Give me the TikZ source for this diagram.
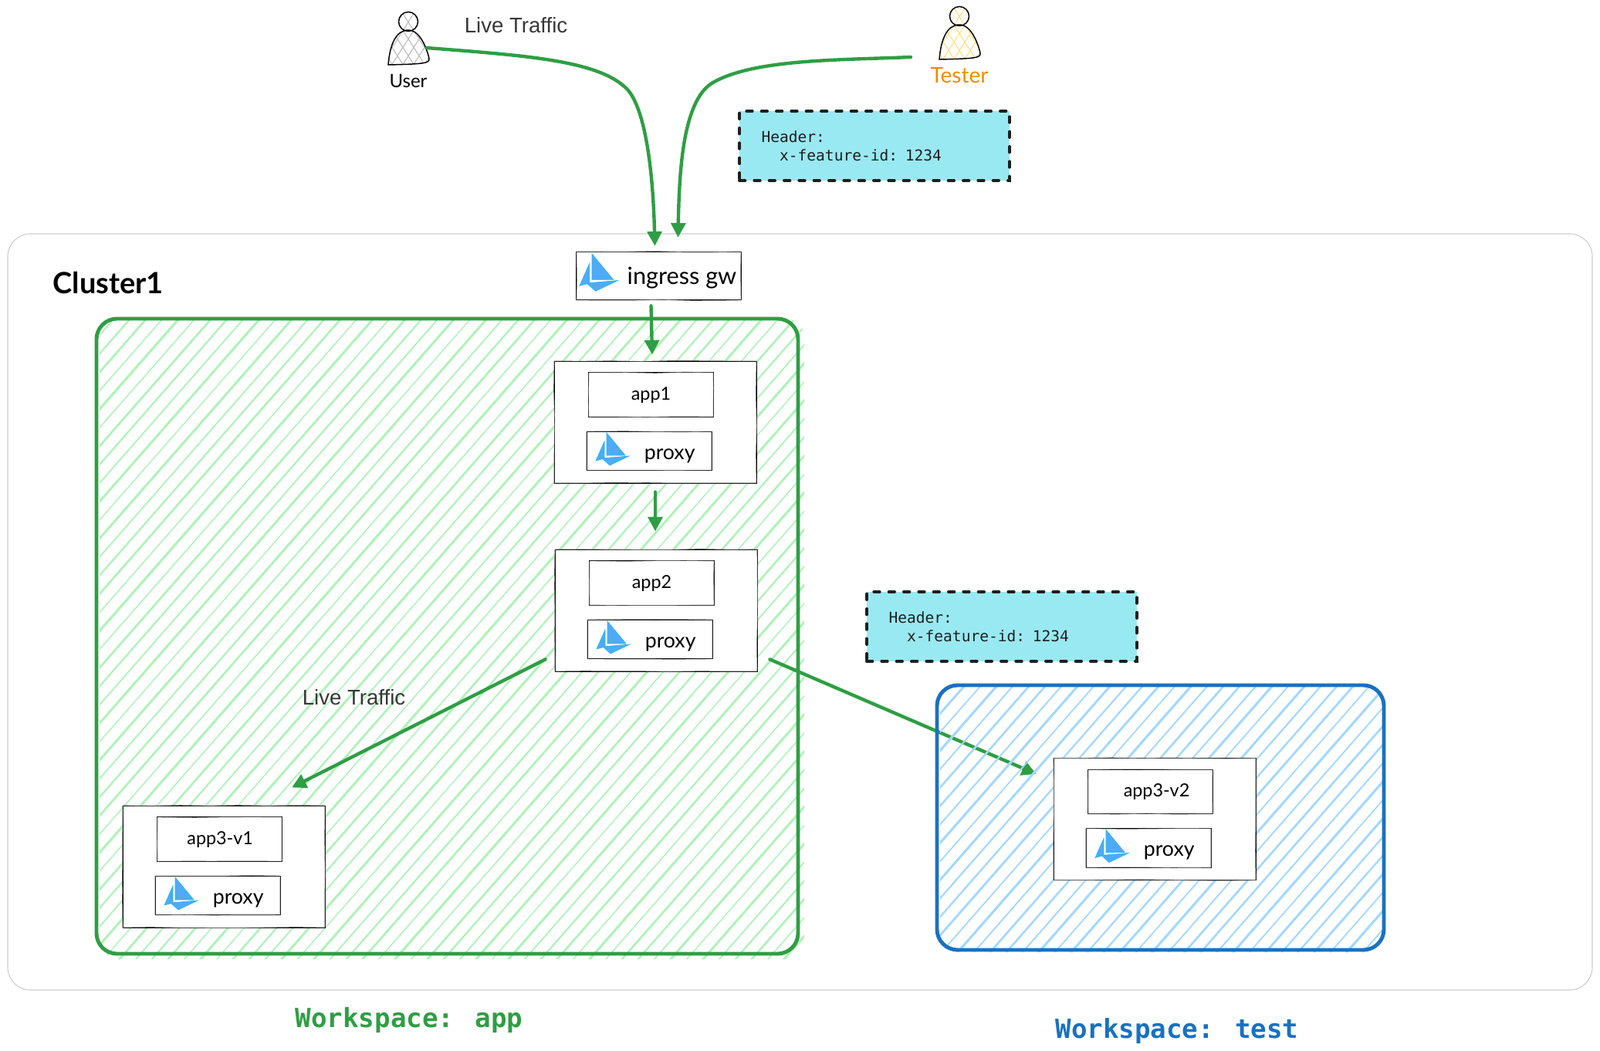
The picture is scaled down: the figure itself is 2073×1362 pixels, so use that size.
\documentclass[tikz,border=0pt]{standalone}
\usepackage{fontspec}
\setmainfont{Liberation Sans}
\newfontfamily\handfont{Lato}
\newfontfamily\codefont{DejaVu Sans Mono}
\usetikzlibrary{positioning,arrows.meta,backgrounds,decorations.pathmorphing}
\definecolor{flowgreen}{HTML}{2F9E44}
\definecolor{hatchgreen}{HTML}{B2F2BB}
\definecolor{zoneblue}{HTML}{1971C2}
\definecolor{hatchblue}{HTML}{A5D8FF}
\definecolor{headercyan}{HTML}{99E9F2}
\definecolor{istioblue}{HTML}{4DABF7}
\definecolor{istioedge}{HTML}{29B6F6}
\definecolor{testerorange}{HTML}{F08C00}
\tikzset{
  sketchbox/.style={draw=black, fill=white, line width=.7pt,
    postaction={draw=black!65, line width=.5pt, decorate,
      decoration={random steps, segment length=28pt, amplitude=.5pt}}},
  podbox/.style={sketchbox, minimum width=196.5pt, minimum height=118.5pt, inner sep=0pt},
  appbox/.style={sketchbox, minimum width=121pt, minimum height=43pt, inner sep=0pt,
    font=\handfont\fontsize{17.5}{20}\selectfont},
  proxybox/.style={sketchbox, minimum width=121.5pt, minimum height=38pt, inner sep=0pt,
    font=\handfont\fontsize{20}{23}\selectfont},
  flow/.style={draw=flowgreen, line width=3.3pt, line cap=round,
    -{Triangle[length=14pt,width=14pt]}},
  headerbox/.style={draw=black!88, fill=headercyan, line width=3pt, line cap=round,
    dash pattern=on 5.5pt off 9pt, minimum height=67.5pt, inner xsep=21.5pt,
    text width=219.5pt, align=left, text=black!88,
    font=\codefont\fontsize{14.65}{18}\selectfont},
  traffic/.style={text=black!78, font=\fontsize{20.7}{24}\selectfont},
  workspace/.style={font=\codefont\bfseries\fontsize{25.6}{30}\selectfont},
  pics/istio/.style={code={
    \draw[fill=istioblue, draw=istioedge, line width=.5pt] (0,0) -- (24,29) -- (0,29) -- cycle;
    \draw[fill=istioblue, draw=istioedge, line width=.5pt] (-3,11) -- (-14,36) -- (-3,33) -- cycle;
    \draw[fill=istioblue, draw=istioedge, line width=.5pt] (-6,33) -- (29,30) -- (4,42) -- cycle;
  }},
  pics/person/.style={code={
    \begin{scope}
      \clip (0,0) circle (12.5)
        (-26,56) .. controls (-24,30) and (-16,11) .. (0,11)
        .. controls (16,11) and (25,38) .. (27,48)
        .. controls (28,54) and (20,55) .. (-26,56) -- cycle;
      \foreach \k in {-70,-56,...,70} {
        \draw[#1, line width=.9pt] ({\k-24},-15) -- ({\k+24},60);
        \draw[#1, line width=.9pt] ({\k+24},-15) -- ({\k-24},60);
      }
    \end{scope}
    \draw[line width=1.1pt] (0,0) circle (12.5);
    \draw[line width=1.1pt] (-26,56) .. controls (-24,30) and (-16,11) .. (0,11)
        .. controls (16,11) and (25,38) .. (27,48)
        .. controls (28,54) and (20,55) .. (-26,56) -- cycle;
  }}
}

\begin{document}
\begin{tikzpicture}[x=.75pt, y=-.75pt]
  \useasboundingbox (0,0) rectangle (2073,1362);

  % Pods with their app and proxy boxes
  \foreach \name/\apptext/\x/\y/\nudge in {app1/app1/849/547/0, app2/app2/850/791/0,
      appvone/app3-v1/290/1123/1, appvtwo/app3-v2/1496/1061.5/12} {
    \node[podbox] (\name pod) at (\x,\y) {};
    \node[appbox] (\name) at ({\x-5.5},{\y-35.5}) {\hspace*{\nudge pt}\raisebox{-5pt}[0pt][0pt]{\apptext}};
    \node[proxybox] (\name proxy) at ({\x-8},{\y+37.5}) {\hspace*{40pt}\raisebox{-8pt}[0pt][0pt]{proxy}};
    \pic at ({\x-63},{\y+14}) {istio};
  }

  % Ingress gateway
  \node[sketchbox, minimum width=160pt, minimum height=47pt, inner sep=0pt,
    font=\handfont\fontsize{23}{26}\selectfont] (gw) at (853.5,357.5)
    {\hspace*{45pt}\raisebox{-8pt}[0pt][0pt]{ingress gw}};
  \pic[scale=1.15] at (767,329) {istio};

  % People on top
  \pic at (529,28) {person=black!25};
  \pic at (1243,21) {person={yellow!55!orange!45}};
  \node[font=\handfont\fontsize{18}{20}\selectfont] (userlabel) at (529,105) {User};
  \node[text=testerorange, font=\handfont\fontsize{21}{24}\selectfont] (testerlabel) at (1243,98) {Tester};
  \coordinate (userout) at (553,62);
  \coordinate (testerout) at (1180,74);

  % Texts
  \node[traffic] (trafficup) at (668.5,33) {Live Traffic};
  \node[traffic] (trafficdown) at (458.5,904) {Live Traffic};
  \node[font=\handfont\bfseries\fontsize{28.5}{32}\selectfont] (clustername) at (140,367) {Cluster1};
  \node[workspace, text=flowgreen] (wsapp) at (530,1322) {Workspace: app};
  \node[workspace, text=zoneblue] (wstest) at (1525,1336) {Workspace: test};

  % Header notes
  \node[headerbox] (headerone) at (1133,189) {Header:\\\phantom{xx}x-feature-id: 1234};
  \node[headerbox] (headertwo) at (1298,812) {Header:\\\phantom{xx}x-feature-id: 1234};

  % Cluster and workspaces, behind everything else
  \begin{scope}[on background layer]
    \draw[black!20, line width=.8pt, rounded corners=22pt] (10,303) rectangle (2063,1283);

    \begin{scope}
      \clip[rounded corners=18pt] (129,413) rectangle (1042,1243);
      \foreach \c in {489,510,...,2140} {
        \pgfmathsetmacro{\hw}{1.1+1.3*sin(\c*5)*sin(\c*5)}
        \draw[hatchgreen, line width=\hw pt] ({\c-.877*400},400) -- ({\c-.877*1250},1250);
      }
    \end{scope}
    \draw[flowgreen, line width=3.7pt, rounded corners=20pt] (125,413) rectangle (1034,1236);

    % this one runs under the blue hatching
    \draw[flow] ([shift={(16,-16)}]app2pod.south east) -- ([shift={(-22,21)}]appvtwopod.north west);

    \begin{scope}
      \clip[rounded corners=18pt] (1218,890) rectangle (1793,1234);
      \foreach \c in {1987,2008,...,2890} {
        \pgfmathsetmacro{\hw}{1.3+1.1*sin(\c*5)*sin(\c*5)}
        \draw[hatchblue, line width=\hw pt] ({\c-.877*880},880) -- ({\c-.877*1240},1240);
      }
    \end{scope}
    \draw[zoneblue, line width=3.7pt, rounded corners=20pt] (1214,888) rectangle (1793,1231);
  \end{scope}

  % Traffic
  \draw[flow] (userout) .. controls (680,72) and (775,78) .. (812,115)
    .. controls (836,140) and (846,220) .. ([shift={(-5,-7)}]gw.north);
  \draw[flow] (testerout) .. controls (1090,78) and (975,76) .. (922,108)
    .. controls (885,132) and (880,220) .. ([shift={(25,-18)}]gw.north);
  \draw[flow] ([shift={(-10,7)}]gw.south) -- ([shift={(-4,-8)}]app1pod.north);
  \draw[flow] ([shift={(0,11)}]app1pod.south) -- ([shift={(-1,-23)}]app2pod.north);
  \draw[flow] ([shift={(-12,-16)}]app2pod.south west) -- ([shift={(88,-23)}]appvonepod.north);
\end{tikzpicture}
\end{document}
